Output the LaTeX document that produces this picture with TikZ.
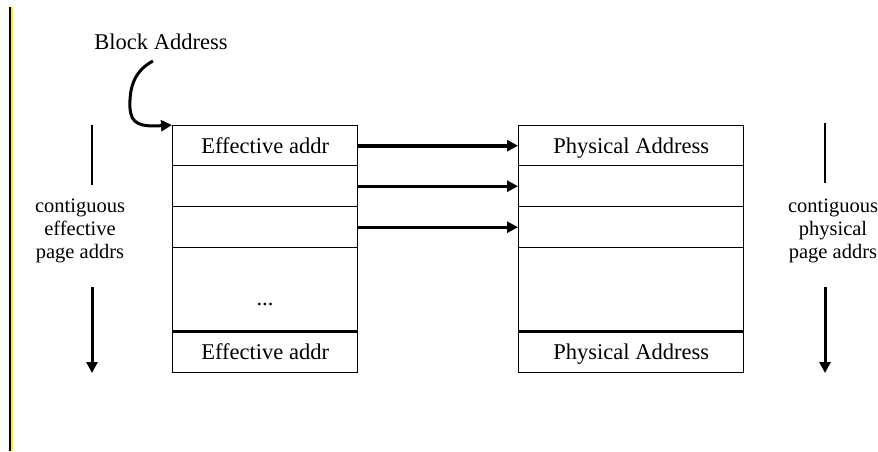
\documentclass[tikz,border=0pt]{standalone}
\usepackage{fontspec}
\setmainfont{Liberation Serif}
\usetikzlibrary{arrows.meta}
\begin{document}
\begin{tikzpicture}[x=1pt,y=-1pt,
  cell/.style={draw,line width=1.4pt,minimum width=185pt,inner sep=0pt,anchor=north west,text height=16pt,text depth=0pt,font=\fontsize{22.5}{26}\selectfont},
  pcell/.style={cell,minimum width=225pt},
  lbl/.style={font=\fontsize{22.5}{26}\selectfont,inner sep=0pt},
  side/.style={font=\fontsize{20.5}{23}\selectfont,align=center,inner sep=0pt},
  tip/.style={-{Triangle[length=11pt,width=11pt]}},
  map/.style={tip,line width=2.6pt},
  thin/.style={line width=1.4pt}]
\useasboundingbox (0,0) rectangle (878,451);
\fill[white] (0,0) rectangle (878,451);
% left margin bar
\draw[line width=1.6pt,black] (10.2,7) -- (10.2,451);
\draw[line width=2.2pt,yellow] (12.2,7) -- (12.2,451);
% left table
\node[cell,minimum height=40pt] (L1) at (172,125) {Effective addr};
\node[cell,minimum height=41pt] (L2) at (172,165) {};
\node[cell,minimum height=41pt] (L3) at (172,206) {};
\node[cell,minimum height=83pt] (L4) at (172,247) {};
\node[cell,minimum height=42pt] (L5) at (172,330) {Effective addr};
\draw[line width=3pt] (L4.south west) -- (L4.south east);
\node[lbl] (dots) at (265,304) {...};
% right table
\node[pcell,minimum height=40pt] (R1) at (518,125) {Physical Address};
\node[pcell,minimum height=41pt] (R2) at (518,165) {};
\node[pcell,minimum height=41pt] (R3) at (518,206) {};
\node[pcell,minimum height=83pt] (R4) at (518,247) {};
\node[pcell,minimum height=42pt] (R5) at (518,330) {Physical Address};
\draw[line width=3pt] (R4.south west) -- (R4.south east);
% mapping arrows
\draw[map,line width=4pt] (L1.east) -- (R1.west);
\draw[map] (L2.east) -- (R2.west);
\draw[map] (L3.east) -- (R3.west);
% block address
\node[lbl] (ba) at (161,42) {Block Address};
\coordinate (bas) at (153,61);
\draw[tip,line width=3pt,line join=round] (bas) .. controls (136,70) and (129,85) .. (130,108) .. controls (131,124) and (140,127) .. (L1.north west);
% side labels
\node[side] (lt) at (80,231) {contiguous\\effective\\page addrs};
\coordinate (lt1) at (92,125);
\coordinate (lt2) at (92,185);
\coordinate (la1) at (92,287);
\coordinate (la2) at (92,373);
\draw[thin] (lt1) -- (lt2);
\draw[tip,line width=3pt] (la1) -- (la2);
\node[side] (rt) at (833,231) {contiguous\\physical\\page addrs};
\coordinate (rt1) at (825,123);
\coordinate (rt2) at (825,183);
\coordinate (ra1) at (825,287);
\coordinate (ra2) at (825,373);
\draw[thin] (rt1) -- (rt2);
\draw[tip,line width=3pt] (ra1) -- (ra2);
\end{tikzpicture}
\end{document}
